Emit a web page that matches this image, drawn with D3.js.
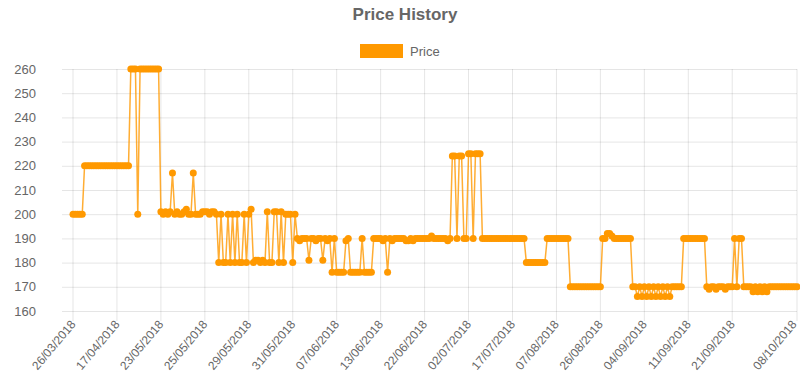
<!DOCTYPE html>
<html>
<head>
<meta charset="utf-8">
<script src="https://cdn.jsdelivr.net/npm/d3@7"></script>
<style>
  body { margin: 0; background: #fff; }
  svg { display: block; font-family: "Liberation Sans", Arial, Helvetica, sans-serif; }
</style>
</head>
<body>
<svg id="chart" width="800" height="374"></svg>
<script>
var prices = [
  200,200,200,200,200,220,220,220,220,220,
  220,220,220,220,220,220,220,220,220,220,
  220,220,220,220,220,260,260,260,200,260,
  260,260,260,260,260,260,260,260,201,200,
  201,200,201,217,200,201,200,200,201,202,
  200,200,217,200,200,200,201,201,201,200,
  201,201,200,180,200,180,180,200,180,200,
  180,200,180,180,200,180,200,202,180,181,
  181,180,181,180,201,180,180,201,201,180,
  201,180,200,200,200,180,200,190,189,190,
  190,190,181,190,190,189,190,190,181,190,
  189,190,176,190,176,176,176,176,189,190,
  176,176,176,176,176,190,176,176,176,176,
  190,190,190,190,189,190,176,190,189,190,
  190,190,190,190,189,189,190,189,190,190,
  190,190,190,190,190,191,190,190,190,190,
  190,190,189,190,224,224,190,224,224,190,
  190,225,225,190,225,225,225,190,190,190,
  190,190,190,190,190,190,190,190,190,190,
  190,190,190,190,190,190,180,180,180,180,
  180,180,180,180,180,190,190,190,190,190,
  190,190,190,190,190,170,170,170,170,170,
  170,170,170,170,170,170,170,170,170,190,
  190,192,192,191,190,190,190,190,190,190,
  190,190,170,170,166,170,166,170,166,170,
  166,170,166,170,166,170,166,170,166,170,
  170,170,170,170,190,190,190,190,190,190,
  190,190,190,190,170,169,170,170,169,170,
  170,170,169,170,170,170,190,170,190,190,
  170,170,170,170,168,170,168,170,168,170,
  168,170,170,170,170,170,170,170,170,170,
  170,170,170,170
];

// dates shown on the x axis and the observation they belong to
var tickDates = ["26/03/2018","17/04/2018","23/05/2018","25/05/2018","29/05/2018",
  "31/05/2018","07/06/2018","13/06/2018","22/06/2018","02/07/2018","17/07/2018",
  "07/08/2018","26/08/2018","04/09/2018","11/09/2018","21/09/2018","08/10/2018"];
var tickIndex = [0,19,38,57,76,95,114,133,152,171,190,209,228,247,266,285,313];

var yTicks = [160,170,180,190,200,210,220,230,240,250,260];

var orange = "#ff9900",
    grid = "rgba(0,0,0,0.1)",
    textCol = "#666";

var svg = d3.select("#chart");
var plotLeft = 73, plotRight = 797, plotTop = 69, plotBottom = 311;

var x = d3.scaleLinear().domain([0, prices.length - 1]).range([plotLeft, plotRight]);
var y = d3.scaleLinear().domain([160, 260]).range([plotBottom, plotTop]);

// title
svg.append("text")
  .attr("x", 405).attr("y", 20)
  .attr("text-anchor", "middle")
  .style("font-size", "17px").style("font-weight", "bold")
  .style("fill", textCol)
  .text("Price History");

// legend
svg.append("rect")
  .attr("x", 360).attr("y", 44).attr("width", 43).attr("height", 14)
  .style("fill", orange);
svg.append("text")
  .attr("x", 410).attr("y", 56)
  .style("font-size", "13px").style("fill", textCol)
  .text("Price");

// horizontal grid + y labels
var yAxis = d3.axisLeft(y).tickValues(yTicks).tickSize(plotRight - plotLeft + 11).tickPadding(26);
var gy = svg.append("g")
  .attr("transform", "translate(" + plotRight + ",0)")
  .call(yAxis);
gy.select(".domain").remove();
gy.selectAll(".tick line").style("stroke", grid);
gy.selectAll(".tick text")
  .style("font-size", "13px").style("fill", textCol)
  .style("font-family", "Liberation Sans, Arial, sans-serif");

// vertical grid + x labels
var gx = svg.append("g");
gx.selectAll("line.vgrid")
  .data(tickIndex)
  .enter().append("line")
  .attr("class", "vgrid")
  .attr("x1", function (d) { return x(d); })
  .attr("x2", function (d) { return x(d); })
  .attr("y1", plotTop).attr("y2", plotBottom + 10)
  .style("stroke", grid);

// last label pulled in a little so it stays inside the page
gx.selectAll("text")
  .data(tickIndex)
  .enter().append("text")
  .attr("transform", function (d, i) {
    var lx = x(d) - (i === tickIndex.length - 1 ? 3 : 0);
    return "translate(" + lx + "," + (plotBottom + 11) + ") rotate(-50)";
  })
  .attr("text-anchor", "end")
  .attr("dy", "0.35em")
  .style("font-size", "12px").style("fill", textCol)
  .text(function (d, i) { return tickDates[i]; });

// the price line
var line = d3.line()
  .x(function (d, i) { return x(i); })
  .y(function (d) { return y(d); });

svg.append("path")
  .datum(prices)
  .attr("d", line)
  .style("fill", "none")
  .style("stroke", orange)
  .style("stroke-opacity", 0.8)
  .style("stroke-width", 1.5);

svg.append("g").selectAll("circle")
  .data(prices)
  .enter().append("circle")
  .attr("cx", function (d, i) { return x(i); })
  .attr("cy", function (d) { return y(d); })
  .attr("r", 3.5)
  .style("fill", orange);
</script>
</body>
</html>
